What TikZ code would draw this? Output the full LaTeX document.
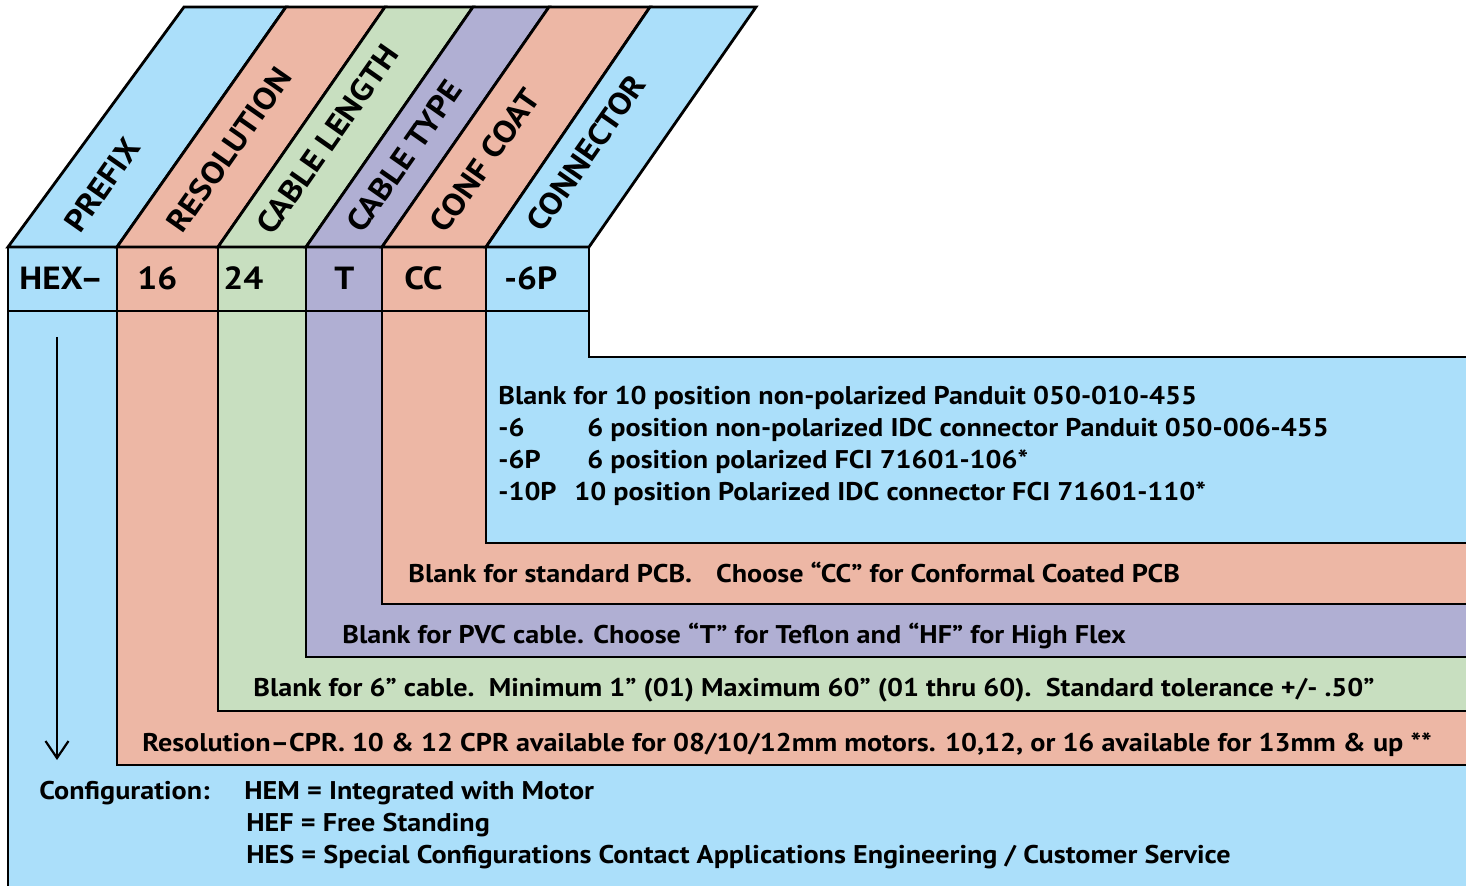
\documentclass[tikz,border=0pt]{standalone}
\usepackage{fontspec}
\setmainfont{PT Sans}[FakeStretch=1.1]
\usetikzlibrary{arrows.meta}

\definecolor{FieldBlue}{RGB}{171,223,250}
\definecolor{FieldSalmon}{RGB}{237,183,165}
\definecolor{FieldGreen}{RGB}{200,223,192}
\definecolor{FieldPurple}{RGB}{176,175,211}

\begin{document}
\begin{tikzpicture}[
    x=0.5pt, y=-0.5pt,
    line width=1.4pt,
    every node/.style={inner sep=0pt},
    head/.style={font=\fontsize{15.5}{18}\selectfont\bfseries, rotate=55, anchor=base west},
    code/.style={font=\fontsize{16}{19}\selectfont\bfseries, anchor=base west},
    desc/.style={font=\fontsize{12.8}{15}\selectfont\bfseries, anchor=base west},
  ]
  \useasboundingbox (0,0) rectangle (1472,886);
  \def\xR{1466}

  % nested field panels, outermost first
  \foreach \x/\yb/\col in {8/892/FieldBlue, 117/765/FieldSalmon, 218/711/FieldGreen,
                           306/657/FieldPurple, 382/604/FieldSalmon, 486/543/FieldBlue}{
    \fill[\col] (\x,247) rectangle (\xR,\yb);
    \draw (\x,247) -- (\x,\yb) -- (\xR,\yb);
  }

  % empty corner right of the code row
  \fill[white] (589,247) rectangle (1472,357);
  \draw (589,247) -- (589,357) -- (\xR,357);

  % code row
  \draw (8,311) -- (589,311);

  % slanted header
  \foreach \bl/\tl/\br/\tr/\col in {8/184/117/286/FieldBlue, 117/286/218/385/FieldSalmon,
                                    218/385/306/473/FieldGreen, 306/473/382/549/FieldPurple,
                                    382/549/486/650/FieldSalmon, 486/650/589/756/FieldBlue}
    \filldraw[fill=\col] (\bl,247) -- (\tl,7) -- (\tr,7) -- (\br,247) -- cycle;

  \node[head] (hPrefix) at (80,236) {PREFIX};
  \node[head] (hRes)    at (182,236) {RESOLUTION};
  \node[head] (hLen)    at (272,238) {CABLE LENGTH};
  \node[head] (hType)   at (362,236) {CABLE TYPE};
  \node[head] (hCoat)   at (445,236) {CONF COAT};
  \node[head] (hConn)   at (542,235) {CONNECTOR};

  % part number
  \node[code] (cPrefix) at (18,290) {HEX–};
  \node[code] (cRes)    at (136,290) {16};
  \node[code] (cLen)    at (222,290) {24};
  \node[code] (cType)   at (333,290) {T};
  \node[code] (cCoat)   at (403,290) {CC};
  \node[code] (cConn)   at (503,290) {-6P};

  % connector options
  \node[desc] (dConnA)  at (497,405) {Blank for 10 position non-polarized Panduit 050-010-455};
  \node[desc] (kConnB)  at (497,437) {-6};
  \node[desc] (dConnB)  at (586,437) {6 position non-polarized IDC connector Panduit 050-006-455};
  \node[desc] (kConnC)  at (497,469) {-6P};
  \node[desc] (dConnC)  at (586,469) {6 position polarized FCI 71601-106*};
  \node[desc] (kConnD)  at (497,501) {-10P};
  \node[desc] (dConnD)  at (573,501) {10 position Polarized IDC connector FCI 71601-110*};

  % remaining fields
  \node[desc] (dCoat) at (407,583) {Blank for standard PCB.\hspace{12pt}Choose “CC” for Conformal Coated PCB};
  \node[desc] (dType) at (341,644) {Blank for PVC cable. Choose “T” for Teflon and “HF” for High Flex};
  \node[desc] (dLen)  at (252,697) {Blank for 6” cable.\ \ Minimum 1” (01) Maximum 60” (01 thru 60).\ \ Standard tolerance +/- .50”};
  \node[desc] (dRes)  at (141,752) {Resolution–CPR. 10 \& 12 CPR available for 08/10/12mm motors. 10,12, or 16 available for 13mm \& up **};

  % configuration
  \node[desc] (dCfg) at (38,799)  {Configuration:};
  \node[desc] (dHEM) at (243,799) {HEM = Integrated with Motor};
  \node[desc] (dHEF) at (245,831) {HEF = Free Standing};
  \node[desc] (dHES) at (245,863) {HES = Special Configurations Contact Applications Engineering / Customer Service};

  \coordinate (arrTop) at (57,337);
  \coordinate (arrTip) at (57,760);
  \draw[line width=1.1pt, -{Straight Barb[length=8.5pt,width=11.5pt]}] (arrTop) -- (arrTip);
\end{tikzpicture}
\end{document}
